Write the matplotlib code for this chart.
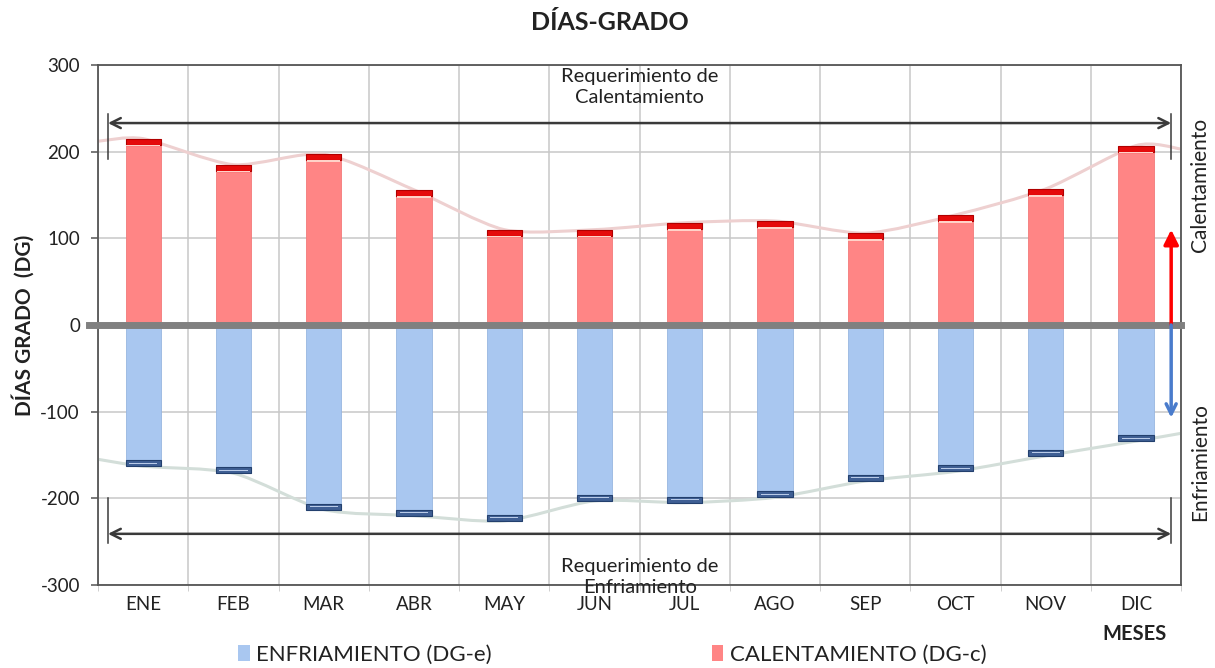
import numpy as np
import matplotlib
matplotlib.use("Agg")
import matplotlib.pyplot as plt
from matplotlib.path import Path
from matplotlib.patches import PathPatch, Patch

plt.rcParams['font.family'] = ['Lato', 'DejaVu Sans']
plt.rcParams['axes.unicode_minus'] = False

# data
meses = ['ENE', 'FEB', 'MAR', 'ABR', 'MAY', 'JUN', 'JUL', 'AGO', 'SEP', 'OCT', 'NOV', 'DIC']
calentamiento = [215, 185, 197, 156, 110, 110, 118, 120, 106, 127, 157, 207]
enfriamiento = [-163, -171, -213, -220, -226, -203, -205, -199, -180, -169, -151, -134]
# trend line ends at the plot edges
cal_edges = [212, 203]
enf_edges = [-155, -125]
cap = 7  # dark top segment of each bar

req_cal_y = 233
req_enf_y = -241


def smooth_path(xs, ys):
    # catmull-rom curve through the points, as bezier path
    xs = np.asarray(xs, float)
    ys = np.asarray(ys, float)
    pts = np.column_stack([xs, ys])
    verts = [pts[0]]
    codes = [Path.MOVETO]
    for i in range(len(pts) - 1):
        p0 = pts[i - 1] if i > 0 else pts[i]
        p1 = pts[i]
        p2 = pts[i + 1]
        p3 = pts[i + 2] if i + 2 < len(pts) else pts[i + 1]
        c1 = p1 + (p2 - p0) / 8.0
        c2 = p2 - (p3 - p1) / 8.0
        verts += [c1, c2, p2]
        codes += [Path.CURVE4] * 3
    return Path(verts, codes)


fig = plt.figure(figsize=(12.15, 6.68), dpi=100)
ax = fig.add_axes([0.0807, 0.1243, 0.8914, 0.7784])

x = np.arange(len(meses))
w = 0.39

# trend lines
xl = np.concatenate([[-0.5], x, [11.5]])
ax.add_patch(PathPatch(smooth_path(xl, [cal_edges[0]] + calentamiento + [cal_edges[1]]),
                       fill=False, edgecolor='#eed0d0', lw=2.2, zorder=1.5))
ax.add_patch(PathPatch(smooth_path(xl, [enf_edges[0]] + enfriamiento + [enf_edges[1]]),
                       fill=False, edgecolor='#d3ded9', lw=2.2, zorder=1.5))

cal = np.array(calentamiento)
enf = np.array(enfriamiento)

ax.bar(x, cal, width=w, color='#ff8585', edgecolor='#f27a7a', lw=0.6, zorder=2)
ax.bar(x, [cap] * len(x), bottom=cal - cap, width=w, color='#e50b0b',
       edgecolor='#b00000', lw=0.8, zorder=3)
ax.bar(x, [2] * len(x), bottom=cal - cap - 2, width=w * 0.95, color='#ffd2c8', lw=0, zorder=3)

ax.bar(x, enf, width=w, color='#a9c7f0', edgecolor='#98b6e0', lw=0.6, zorder=2)
ax.bar(x, [cap] * len(x), bottom=enf, width=w, color='#3f5f94',
       edgecolor='#23406e', lw=0.8, zorder=3)
ax.bar(x, [1.2] * len(x), bottom=enf + cap / 2 - 0.6, width=w * 0.8, color='#b9cbe8', lw=0, zorder=3)

# zero line
ax.axhline(0, color='#808080', lw=5, zorder=4, xmin=-0.008, clip_on=False)

# axes style
ax.set_xlim(-0.5, 11.5)
ax.set_ylim(-300, 300)
ax.set_yticks(np.arange(-300, 301, 100))
ax.set_xticks(x)
ax.set_xticklabels(meses)
ax.set_xticks(np.arange(-0.5, 12, 1), minor=True)
ax.grid(True, which='minor', axis='x', color='#c8c8c8', lw=1.1)
ax.grid(True, which='major', axis='y', color='#c8c8c8', lw=1.1)
ax.set_axisbelow(True)
ax.tick_params(axis='x', which='major', length=0, pad=8, labelsize=13.5, colors='#222222')
ax.tick_params(axis='x', which='minor', length=4, color='#c8c8c8')
ax.tick_params(axis='y', length=5, width=1.1, color='#555555', pad=8, labelsize=13.5, labelcolor='#222222')
for s in ax.spines.values():
    s.set_color('#555555')
    s.set_linewidth(1.3)

# requirement arrows
xa0, xa1 = -0.39, 11.39
for yv, t0, t1 in [(req_cal_y, 192, 244), (req_enf_y, -252, -200)]:
    ax.annotate('', xy=(xa0, yv), xytext=(xa1, yv),
                arrowprops=dict(arrowstyle='<->', color='#3a3a3a', lw=1.8,
                                mutation_scale=18, shrinkA=0, shrinkB=0), zorder=5)
    ax.plot([xa0, xa0], [t0, t1], color='#3a3a3a', lw=1.1, zorder=5)
    ax.plot([xa1, xa1], [t0, t1], color='#3a3a3a', lw=1.1, zorder=5)

ax.text(5.5, 275, 'Requerimiento de\nCalentamiento', ha='center', va='center',
        fontsize=14.5, linespacing=1.3, color='#222222', zorder=6)
ax.text(5.5, -291, 'Requerimiento de\nEnfriamiento', ha='center', va='center',
        fontsize=14.5, linespacing=1.3, color='#222222', zorder=6, clip_on=False)

# heating / cooling arrows on right
ax.annotate('', xy=(xa1, 110), xytext=(xa1, 0),
            arrowprops=dict(arrowstyle='-|>', color='#ff0000', lw=2.5,
                            mutation_scale=22, shrinkA=0, shrinkB=0), zorder=6)
ax.annotate('', xy=(xa1, -107), xytext=(xa1, 0),
            arrowprops=dict(arrowstyle='->', color='#4a7ccc', lw=2.5,
                            mutation_scale=18, shrinkA=0, shrinkB=0), zorder=6)

fig.text(0.988, 0.723, 'Calentamiento', rotation=90, ha='center', va='center', fontsize=15, color='#222222')
fig.text(0.988, 0.308, 'Enfriamiento', rotation=90, ha='center', va='center', fontsize=15, color='#222222')

fig.text(0.502, 0.967, 'DÍAS-GRADO', ha='center', va='center', fontsize=18, fontweight='bold', color='#222222')
fig.text(0.019, 0.513, 'DÍAS GRADO  (DG)', rotation=90, ha='center', va='center',
         fontsize=15, fontweight='bold', color='#222222')
fig.text(0.934, 0.051, 'MESES', ha='center', va='center', fontsize=14.5, fontweight='bold', color='#222222')

handles = [Patch(facecolor='#a9c7f0', edgecolor='none'), Patch(facecolor='#ff8585', edgecolor='none')]
fig.legend(handles, ['ENFRIAMIENTO (DG-e)', 'CALENTAMIENTO (DG-c)'], ncol=2,
           loc='center', bbox_to_anchor=(0.504, 0.02), frameon=False, fontsize=16,
           handlelength=0.5, handleheight=0.75, handletextpad=0.3, columnspacing=9.9,
           labelcolor='#222222')

fig.savefig('out.png', dpi=100)
